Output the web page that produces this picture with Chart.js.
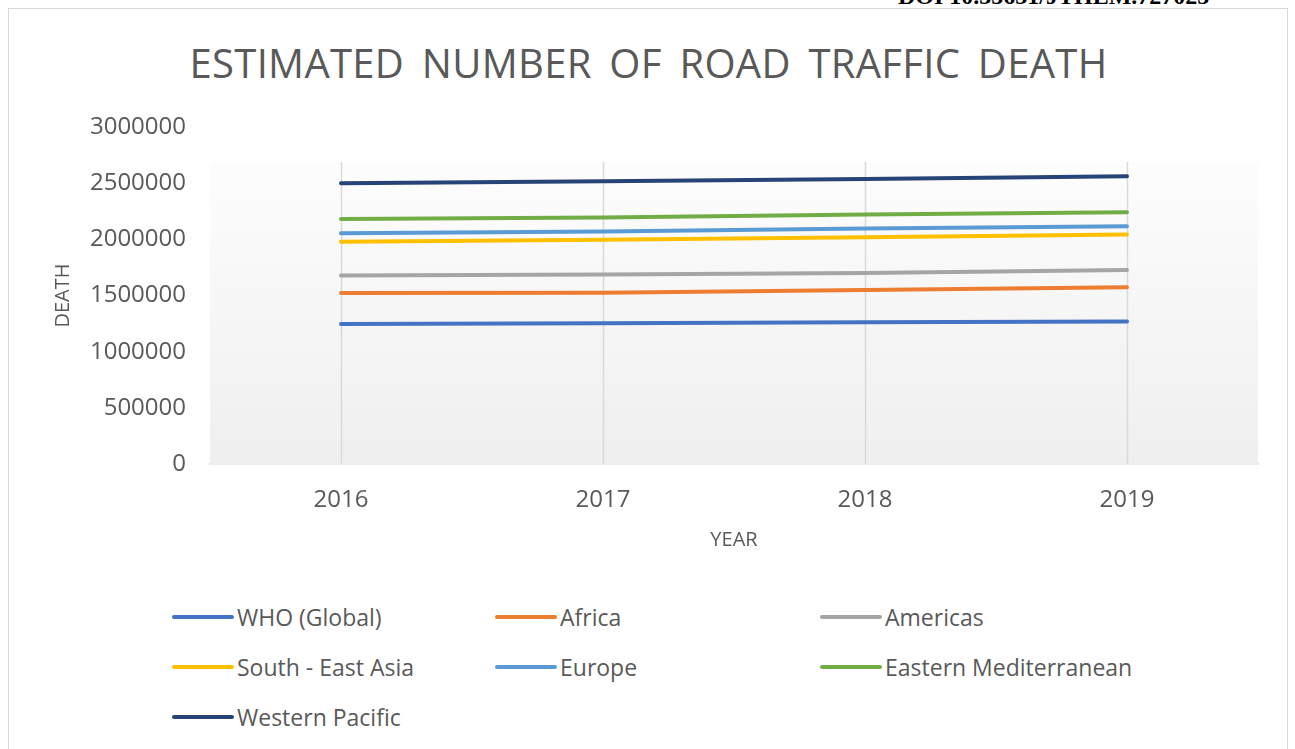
<!DOCTYPE html>
<html>
<head>
<meta charset="utf-8">
<script src="https://cdn.jsdelivr.net/npm/chart.js@4.4.1/dist/chart.umd.min.js"></script>
<style>
  html, body { margin: 0; padding: 0; background: #fff; overflow: hidden; }
  body { width: 1295px; height: 749px; position: relative; font-family: "Open Sans", sans-serif; }
  #frame { position: absolute; left: 8px; top: 8px; width: 1280px; height: 780px; border: 1.5px solid #d9d9d9; box-sizing: border-box; }
  #doi { position: absolute; left: 898px; top: -17px; font: bold 24px "Liberation Serif", serif; color: #000; white-space: nowrap; }
  #title { position: absolute; left: 0; width: 1297px; top: 35px; text-align: center; font-size: 40px; letter-spacing: 0.3px; color: #595959; word-spacing: 7px; white-space: nowrap; }
  #chartBox { position: absolute; left: 0; top: 0; width: 1295px; height: 600px; }
  #legend { position: absolute; left: 172px; top: 600px; display: grid; grid-template-columns: 323px 325px 330px; grid-auto-rows: 50px; }
  .item { display: flex; align-items: center; height: 34px; font-size: 23px; color: #595959; white-space: nowrap; }
  .swatch { width: 62px; height: 4px; border-radius: 2px; margin-right: 3px; }
</style>
</head>
<body>
<div id="frame"></div>
<div id="doi">DOI 10.35631/JTHEM.727025</div>
<div id="title">ESTIMATED NUMBER OF ROAD TRAFFIC DEATH</div>
<div id="chartBox"><canvas id="chart"></canvas></div>
<div id="legend"></div>
<script>
/* Estimated road traffic deaths by WHO region */
const years = ['2016', '2017', '2018', '2019'];

const whoGlobal    = [1247000, 1253000, 1262000, 1268000];
const africa       = [1522000, 1525000, 1549000, 1573000];
const americas     = [1679000, 1688000, 1700000, 1726000];
const seAsia       = [1978000, 1996000, 2019000, 2043000];
const europe       = [2055000, 2070000, 2096000, 2117000];
const eastMed      = [2182000, 2194000, 2221000, 2241000];
const westPacific  = [2500000, 2516000, 2537000, 2561000];

const seriesNames  = ['WHO (Global)', 'Africa', 'Americas', 'South - East Asia', 'Europe', 'Eastern Mediterranean', 'Western Pacific'];
const seriesValues = [whoGlobal, africa, americas, seAsia, europe, eastMed, westPacific];
const seriesColors = ['#4472c4', '#ed7d31', '#a5a5a5', '#ffc000', '#5b9bd5', '#70ad47', '#264478'];

const yTicks = [0, 500000, 1000000, 1500000, 2000000, 2500000, 3000000];

(function () {
  function $(id) { return document.getElementById(id); }

  const TEXT = '#595959';
  const FONT = '"Open Sans", sans-serif';
  const BG_OFFSET = 35; // shaded plot box starts a bit below the top tick

  // plot area shading + vertical category gridlines inside it
  const plotBg = {
    id: 'plotBg',
    beforeDatasetsDraw(chart) {
      const a = chart.chartArea;
      const ctx = chart.ctx;
      const top = a.top + BG_OFFSET;
      const g = ctx.createLinearGradient(0, top, 0, a.bottom);
      g.addColorStop(0, '#fdfdfd');
      g.addColorStop(1, '#efefef');
      ctx.save();
      ctx.fillStyle = g;
      ctx.fillRect(a.left, top, a.right - a.left, a.bottom - top);
      ctx.strokeStyle = '#d9d9d9';
      ctx.lineWidth = 1.5;
      const xs = chart.scales.x;
      xs.ticks.forEach((t, i) => {
        const px = Math.round(xs.getPixelForTick(i)) + 0.5;
        ctx.beginPath();
        ctx.moveTo(px, top);
        ctx.lineTo(px, a.bottom);
        ctx.stroke();
      });
      ctx.restore();
    }
  };

  function buildLegend() {
    const box = $('legend');
    seriesNames.forEach((name, i) => {
      const item = document.createElement('div');
      item.className = 'item';
      const sw = document.createElement('span');
      sw.className = 'swatch';
      sw.style.background = seriesColors[i];
      const label = document.createElement('span');
      label.textContent = name;
      item.appendChild(sw);
      item.appendChild(label);
      box.appendChild(item);
    });
  }

  function drawChart() {
    const ctx = $('chart').getContext('2d');
    new Chart(ctx, {
      type: 'line',
      data: {
        labels: years,
        datasets: seriesNames.map((name, i) => ({
          label: name,
          data: seriesValues[i],
          borderColor: seriesColors[i],
          backgroundColor: seriesColors[i],
          borderWidth: 4,
          borderCapStyle: 'round',
          pointRadius: 0,
          tension: 0,
          fill: false
        }))
      },
      options: {
        responsive: true,
        maintainAspectRatio: false,
        animation: false,
        layout: { padding: { left: 40, right: 37, top: 127, bottom: 36 } },
        plugins: {
          legend: { display: false },
          title: { display: false },
          tooltip: { enabled: false }
        },
        scales: {
          x: {
            offset: true,
            grid: { display: false, drawTicks: false },
            border: { display: true, color: '#d9d9d9', width: 1.5 },
            ticks: { color: TEXT, font: { family: FONT, size: 24 }, padding: 22 },
            title: { display: true, text: 'YEAR', color: TEXT, font: { family: FONT, size: 20 }, padding: { top: 0, bottom: 12 } },
            afterFit: s => { s.height = 100; }
          },
          y: {
            min: 0,
            max: 3000000,
            afterBuildTicks: s => { s.ticks = yTicks.map(v => ({ value: v })); },
            grid: { display: false, drawTicks: false },
            border: { display: false },
            ticks: { color: TEXT, font: { family: FONT, size: 24 }, padding: 24, callback: v => String(v) },
            title: { display: true, text: 'DEATH', color: TEXT, font: { family: FONT, size: 20 }, padding: { top: 11, bottom: 0 } },
            afterFit: s => { s.width = 170; }
          }
        }
      },
      plugins: [plotBg]
    });
  }

  buildLegend();
  drawChart();
})();
</script>
</body>
</html>
